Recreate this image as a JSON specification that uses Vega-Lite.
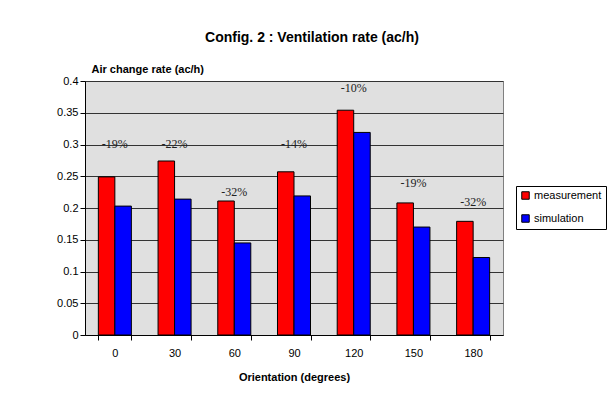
{
  "$schema": "https://vega.github.io/schema/vega-lite/v6.json",
  "width": 418,
  "height": 254,
  "autosize": {"type": "none"},
  "padding": {"left": 85, "top": 81, "right": 109, "bottom": 68},
  "background": "white",
  "title": {
    "text": "Config. 2 : Ventilation rate (ac/h)",
    "font": "Liberation Sans",
    "fontSize": 14,
    "fontWeight": "bold",
    "color": "black",
    "anchor": "middle",
    "dx": 18,
    "offset": 18
  },
  "datasets": {
    "bars": [
      {"orientation": 0, "series": "measurement", "rate": 0.249},
      {"orientation": 0, "series": "simulation", "rate": 0.203},
      {"orientation": 30, "series": "measurement", "rate": 0.274},
      {"orientation": 30, "series": "simulation", "rate": 0.214},
      {"orientation": 60, "series": "measurement", "rate": 0.211},
      {"orientation": 60, "series": "simulation", "rate": 0.145},
      {"orientation": 90, "series": "measurement", "rate": 0.257},
      {"orientation": 90, "series": "simulation", "rate": 0.219},
      {"orientation": 120, "series": "measurement", "rate": 0.354},
      {"orientation": 120, "series": "simulation", "rate": 0.319},
      {"orientation": 150, "series": "measurement", "rate": 0.208},
      {"orientation": 150, "series": "simulation", "rate": 0.17},
      {"orientation": 180, "series": "measurement", "rate": 0.179},
      {"orientation": 180, "series": "simulation", "rate": 0.122}
    ],
    "labels": [
      {"orientation": 0, "diff": "-19%", "level": 0.301},
      {"orientation": 30, "diff": "-22%", "level": 0.301},
      {"orientation": 60, "diff": "-32%", "level": 0.225},
      {"orientation": 90, "diff": "-14%", "level": 0.301},
      {"orientation": 120, "diff": "-10%", "level": 0.389},
      {"orientation": 150, "diff": "-19%", "level": 0.240},
      {"orientation": 180, "diff": "-32%", "level": 0.21}
    ]
  },
  "config": {
    "view": {"fill": "#E0E0E0", "stroke": "#808080"},
    "font": "Liberation Sans"
  },
  "layer": [
    {
      "data": {"name": "bars"},
      "mark": {"type": "bar", "stroke": "black", "strokeWidth": 1},
      "encoding": {
        "x": {
          "field": "orientation",
          "type": "ordinal",
          "scale": {"paddingInner": 0.447, "paddingOuter": 0.2235},
          "axis": {
            "title": "Orientation (degrees)",
            "labelAngle": 0,
            "tickBand": "extent",
            "ticks": true,
            "tickSize": 5,
            "tickColor": "black",
            "domainColor": "black",
            "labelPadding": 7,
            "labelFont": "Liberation Sans",
            "labelFontSize": 11,
            "labelColor": "black",
            "titleFont": "Liberation Sans",
            "titleFontSize": 11,
            "titleFontWeight": "bold",
            "titleColor": "black",
            "titlePadding": 13,
            "grid": false
          }
        },
        "xOffset": {"field": "series", "type": "nominal", "sort": ["measurement", "simulation"]},
        "y": {
          "field": "rate",
          "type": "quantitative",
          "scale": {"domain": [0, 0.4], "nice": false},
          "axis": {
            "title": "Air change rate (ac/h)",
            "values": [0, 0.05, 0.1, 0.15, 0.2, 0.25, 0.3, 0.35, 0.4],
            "labelOverlap": false,
            "format": ".2~f",
            "grid": true,
            "gridColor": "#333333",
            "gridWidth": 1,
            "domainColor": "black",
            "tickColor": "black",
            "tickSize": 5,
            "labelPadding": 2,
            "labelFont": "Liberation Sans",
            "labelFontSize": 11,
            "labelColor": "black",
            "titleAngle": 0,
            "titleAlign": "left",
            "titleBaseline": "alphabetic",
            "titleX": 6,
            "titleY": -9,
            "titleFont": "Liberation Sans",
            "titleFontSize": 11,
            "titleFontWeight": "bold",
            "titleColor": "black"
          }
        },
        "color": {
          "field": "series",
          "type": "nominal",
          "scale": {"domain": ["measurement", "simulation"], "range": ["#FF0000", "#0000FF"]},
          "legend": {
            "title": null,
            "orient": "none",
            "legendX": 431,
            "legendY": 105,
            "strokeColor": "black",
            "fillColor": "white",
            "padding": 4,
            "rowPadding": 10,
            "symbolType": "square",
            "symbolSize": 56,
            "symbolStrokeColor": "black",
            "symbolStrokeWidth": 1,
            "labelFont": "Liberation Sans",
            "labelFontSize": 11,
            "labelColor": "black",
            "labelOffset": 3
          }
        }
      }
    },
    {
      "data": {"name": "labels"},
      "mark": {"type": "text", "font": "Liberation Serif", "fontSize": 12, "color": "#222222", "baseline": "middle"},
      "encoding": {
        "x": {
          "field": "orientation",
          "type": "ordinal",
          "axis": {
            "title": "Orientation (degrees)",
            "labelAngle": 0,
            "tickBand": "extent",
            "ticks": true,
            "tickSize": 5,
            "tickColor": "black",
            "domainColor": "black",
            "labelPadding": 7,
            "labelFont": "Liberation Sans",
            "labelFontSize": 11,
            "labelColor": "black",
            "titleFont": "Liberation Sans",
            "titleFontSize": 11,
            "titleFontWeight": "bold",
            "titleColor": "black",
            "titlePadding": 13,
            "grid": false
          }
        },
        "y": {
          "field": "level",
          "type": "quantitative",
          "axis": {
            "title": "Air change rate (ac/h)",
            "values": [0, 0.05, 0.1, 0.15, 0.2, 0.25, 0.3, 0.35, 0.4],
            "labelOverlap": false,
            "format": ".2~f",
            "grid": true,
            "gridColor": "#333333",
            "gridWidth": 1,
            "domainColor": "black",
            "tickColor": "black",
            "tickSize": 5,
            "labelPadding": 2,
            "labelFont": "Liberation Sans",
            "labelFontSize": 11,
            "labelColor": "black",
            "titleAngle": 0,
            "titleAlign": "left",
            "titleBaseline": "alphabetic",
            "titleX": 6,
            "titleY": -9,
            "titleFont": "Liberation Sans",
            "titleFontSize": 11,
            "titleFontWeight": "bold",
            "titleColor": "black"
          }
        },
        "text": {"field": "diff"}
      }
    }
  ]
}
